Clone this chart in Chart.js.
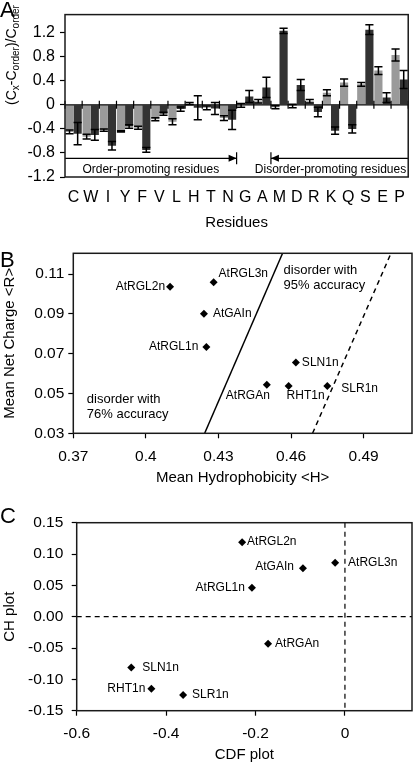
<!DOCTYPE html>
<html>
<head>
<meta charset="utf-8">
<script src="https://cdn.jsdelivr.net/npm/chart.js@4.4.0/dist/chart.umd.min.js"></script>
<style>
  body { margin: 0; background: #fff; width: 416px; height: 765px; position: relative; overflow: hidden; font-family: Arial, "Liberation Sans", sans-serif; }
  .panel { position: absolute; left: 0; }
  .panel canvas { display: block; }
  .tag { position: absolute; left: 0; font-size: 22px; line-height: 1; color: #000; }
</style>
</head>
<body>
<div class="panel" style="top:0"><canvas id="chartA" width="416" height="232"></canvas></div>
<div class="panel" style="top:240px"><canvas id="chartB" width="416" height="250"></canvas></div>
<div class="panel" style="top:505px"><canvas id="chartC" width="416" height="260"></canvas></div>
<div class="tag" style="top:-1px">A</div>
<div class="tag" style="top:249px">B</div>
<div class="tag" style="top:505px">C</div>
<script>
const FONT = 'Arial, "Liberation Sans", sans-serif';
Chart.defaults.font.family = FONT;
Chart.defaults.color = '#000';

// panel A: composition relative to ordered proteins
const residues = ['C', 'W', 'I', 'Y', 'F', 'V', 'L', 'H', 'T', 'N', 'G', 'A', 'M', 'D', 'R', 'K', 'Q', 'S', 'E', 'P'];
const lightVals = [-0.45, -0.53, -0.42, -0.44, -0.38, -0.24, -0.28, 0.02, -0.05, -0.22, -0.01, 0.06, -0.04, -0.02, 0.06, 0.2, 0.37, 0.34, 0.57, 0.83];
const lightErr = [0.03, 0.04, 0.02, 0.01, 0.025, 0.025, 0.05, 0.02, 0.03, 0.04, 0.03, 0.03, 0.025, 0.03, 0.03, 0.05, 0.06, 0.03, 0.065, 0.1];
const darkVals = [-0.48, -0.5, -0.68, -0.36, -0.75, -0.15, -0.07, -0.05, -0.06, -0.25, 0.14, 0.29, 1.23, 0.33, -0.12, -0.43, -0.4, 1.25, 0.12, 0.42];
const darkErr = [0.185, 0.09, 0.07, 0.03, 0.04, 0.025, 0.035, 0.2, 0.1, 0.16, 0.1, 0.17, 0.045, 0.09, 0.08, 0.06, 0.07, 0.08, 0.08, 0.15];
const aTicks = [-1.2, -0.8, -0.4, 0, 0.4, 0.8, 1.2];
const aLabels = ['-1.2', '-0.8', '-0.4', '0', '0.4', '0.8', '1.2'];
const orderGroup = ['C', 'N'];
const disorderGroup = ['M', 'P'];

// panel B: charge-hydropathy
const proteins = ['AtRGL2n', 'AtRGL3n', 'AtGAIn', 'AtRGL1n', 'SLN1n', 'AtRGAn', 'RHT1n', 'SLR1n'];
const meanH = [0.410, 0.428, 0.424, 0.425, 0.462, 0.450, 0.459, 0.475];
const meanR = [0.1036, 0.1059, 0.090, 0.0733, 0.0656, 0.0544, 0.0537, 0.0537];
const boundH = [0.4243, 0.4565];
const boundR = [0.03, 0.1204];
const bound95H = [0.4689, 0.5013];
const bound95R = [0.03, 0.1204];
const bXTicks = [0.37, 0.4, 0.43, 0.46, 0.49];
const bXLabels = ['0.37', '0.4', '0.43', '0.46', '0.49'];
const bYTicks = [0.03, 0.05, 0.07, 0.09, 0.11];
const bYLabels = ['0.03', '0.05', '0.07', '0.09', '0.11'];

// panel C: CH-CDF
const cdfVals = [-0.230, -0.022, -0.094, -0.208, -0.478, -0.172, -0.433, -0.362];
const chVals = [0.119, 0.086, 0.0775, 0.046, -0.081, -0.043, -0.115, -0.125];
const cXTicks = [-0.6, -0.4, -0.2, 0];
const cXLabels = ['-0.6', '-0.4', '-0.2', '0'];
const cYTicks = [-0.15, -0.1, -0.05, 0, 0.05, 0.1, 0.15];
const cYLabels = ['-0.15', '-0.10', '-0.05', '0.00', '0.05', '0.10', '0.15'];

function fixedTicks(values) {
  return scale => { scale.ticks = values.map(v => ({ value: v })); };
}

const framePlugin = {
  id: 'frame',
  afterDraw(chart) {
    const { ctx, chartArea: a } = chart;
    ctx.save();
    ctx.strokeStyle = '#1a1a1a';
    ctx.lineWidth = 1.5;
    ctx.strokeRect(a.left, a.top, a.right - a.left, a.bottom - a.top);
    ctx.restore();
  }
};

const zeroAxis = {
  id: 'zeroAxis',
  afterDatasetsDraw(chart) {
    const { ctx, chartArea: a, scales: { x, y } } = chart;
    const y0 = y.getPixelForValue(0);
    ctx.save();
    ctx.strokeStyle = '#000';
    ctx.lineWidth = 1.2;
    ctx.beginPath();
    ctx.moveTo(a.left, y0);
    ctx.lineTo(a.right, y0);
    for (let i = 0; i <= residues.length; i++) {
      const px = x.getPixelForValue(i - 0.5);
      ctx.moveTo(px, y0 - 4);
      ctx.lineTo(px, y0 + 4);
    }
    ctx.stroke();
    ctx.restore();
  }
};

const errorBars = {
  id: 'errorBars',
  afterDatasetsDraw(chart) {
    const { ctx, scales: { y } } = chart;
    const errs = [lightErr, darkErr];
    ctx.save();
    ctx.strokeStyle = '#000';
    ctx.lineWidth = 1.5;
    chart.data.datasets.forEach((ds, i) => {
      chart.getDatasetMeta(i).data.forEach((bar, j) => {
        const top = y.getPixelForValue(ds.data[j] + errs[i][j]);
        const bot = y.getPixelForValue(ds.data[j] - errs[i][j]);
        const half = bar.width / 2;
        ctx.beginPath();
        ctx.moveTo(bar.x, top); ctx.lineTo(bar.x, bot);
        ctx.moveTo(bar.x - half, top); ctx.lineTo(bar.x + half, top);
        ctx.moveTo(bar.x - half, bot); ctx.lineTo(bar.x + half, bot);
        ctx.stroke();
      });
    });
    ctx.restore();
  }
};

const regionArrows = {
  id: 'regionArrows',
  afterDraw(chart) {
    const { ctx, chartArea: a, scales: { x, y } } = chart;
    const yy = y.getPixelForValue(-0.89);
    const xEnd = x.getPixelForValue(residues.indexOf(orderGroup[1]) + 0.5);
    const xStart = x.getPixelForValue(residues.indexOf(disorderGroup[0]) - 0.5);
    ctx.save();
    ctx.strokeStyle = '#000';
    ctx.fillStyle = '#000';
    ctx.lineWidth = 1.2;
    ctx.beginPath();
    ctx.moveTo(a.left, yy); ctx.lineTo(xEnd, yy);
    ctx.moveTo(xEnd, yy - 6); ctx.lineTo(xEnd, yy + 6);
    ctx.moveTo(xStart, yy); ctx.lineTo(a.right, yy);
    ctx.moveTo(xStart, yy - 6); ctx.lineTo(xStart, yy + 6);
    ctx.stroke();
    ctx.beginPath();
    ctx.moveTo(xEnd, yy); ctx.lineTo(xEnd - 8, yy - 3.5); ctx.lineTo(xEnd - 8, yy + 3.5);
    ctx.closePath();
    ctx.moveTo(xStart, yy); ctx.lineTo(xStart + 8, yy - 3.5); ctx.lineTo(xStart + 8, yy + 3.5);
    ctx.closePath();
    ctx.fill();
    ctx.font = '12px ' + FONT;
    ctx.textBaseline = 'middle';
    ctx.textAlign = 'center';
    ctx.fillText('Order-promoting residues', (a.left + xEnd) / 2, yy + 11);
    ctx.textAlign = 'right';
    ctx.fillText('Disorder-promoting residues', a.right - 2, yy + 11);
    ctx.restore();
  }
};

const ratioTitle = {
  id: 'ratioTitle',
  afterDraw(chart) {
    const { ctx } = chart;
    const parts = [['(C', 0], ['x', 1], ['-C', 0], ['order', 1], [')/C', 0], ['order', 1]];
    const big = '14px ' + FONT;
    const small = '10px ' + FONT;
    ctx.save();
    let total = 0;
    parts.forEach(([t, s]) => { ctx.font = s ? small : big; total += ctx.measureText(t).width; });
    ctx.translate(15.5, 55 + total / 2);
    ctx.rotate(-Math.PI / 2);
    ctx.fillStyle = '#000';
    ctx.textAlign = 'left';
    ctx.textBaseline = 'alphabetic';
    let cx = 0;
    parts.forEach(([t, s]) => {
      ctx.font = s ? small : big;
      ctx.fillText(t, cx, s ? 3 : 0);
      cx += ctx.measureText(t).width;
    });
    ctx.restore();
  }
};

const pointLabels = {
  id: 'pointLabels',
  afterDatasetsDraw(chart, args, opts) {
    const { ctx } = chart;
    const meta = chart.getDatasetMeta(0);
    ctx.save();
    ctx.font = '12px ' + FONT;
    ctx.fillStyle = '#000';
    ctx.textBaseline = 'middle';
    meta.data.forEach((pt, i) => {
      const [dx, dy, align] = opts.place[proteins[i]];
      ctx.textAlign = align;
      ctx.fillText(proteins[i], pt.x + dx, pt.y + dy);
    });
    ctx.restore();
  }
};

const notes = {
  id: 'notes',
  afterDraw(chart, args, opts) {
    const { ctx, scales: { x, y } } = chart;
    ctx.save();
    ctx.font = '13px ' + FONT;
    ctx.fillStyle = '#000';
    ctx.textAlign = 'left';
    ctx.textBaseline = 'middle';
    opts.items.forEach(n => {
      n.lines.forEach((t, k) => ctx.fillText(t, x.getPixelForValue(n.x), y.getPixelForValue(n.y) + k * 15));
    });
    ctx.restore();
  }
};

const originLines = {
  id: 'originLines',
  beforeDatasetsDraw(chart) {
    const { ctx, chartArea: a, scales: { x, y } } = chart;
    const px = x.getPixelForValue(0);
    const py = y.getPixelForValue(0);
    ctx.save();
    ctx.strokeStyle = '#000';
    ctx.lineWidth = 1.2;
    ctx.setLineDash([5, 4]);
    ctx.beginPath();
    ctx.moveTo(a.left, py); ctx.lineTo(a.right, py);
    ctx.moveTo(px, a.top); ctx.lineTo(px, a.bottom);
    ctx.stroke();
    ctx.restore();
  }
};

const noChrome = { legend: { display: false }, tooltip: { enabled: false } };

// ---- A ----
new Chart(document.getElementById('chartA'), {
  type: 'bar',
  data: {
    labels: residues,
    datasets: [
      { data: lightVals, backgroundColor: '#9a9a9a' },
      { data: darkVals, backgroundColor: '#333333' }
    ]
  },
  options: {
    responsive: false,
    animation: false,
    layout: { padding: { top: 1.5, right: 1, left: 0, bottom: 0 } },
    datasets: { bar: { categoryPercentage: 0.95, barPercentage: 1 } },
    plugins: noChrome,
    scales: {
      x: {
        grid: { display: false, drawTicks: false },
        border: { display: false },
        ticks: { font: { size: 16 }, padding: 11, maxRotation: 0, autoSkip: false },
        title: { display: true, text: 'Residues', font: { size: 15 }, padding: { top: 0, bottom: 0 } },
        afterFit: s => { s.height = 55; }
      },
      y: {
        min: -1.2,
        max: 1.5,
        afterBuildTicks: fixedTicks(aTicks),
        grid: { drawOnChartArea: false, tickLength: 5, tickColor: '#000', tickWidth: 1.2 },
        border: { display: false },
        ticks: { font: { size: 16 }, padding: 5, callback: (v, i) => aLabels[i] },
        afterFit: s => { s.width = 65; }
      }
    }
  },
  plugins: [zeroAxis, errorBars, regionArrows, ratioTitle, framePlugin]
});

// ---- B ----
new Chart(document.getElementById('chartB'), {
  type: 'scatter',
  data: {
    datasets: [
      { data: proteins.map((p, i) => ({ x: meanH[i], y: meanR[i] })), pointStyle: 'rectRot', pointRadius: 4, pointBackgroundColor: '#000', pointBorderWidth: 0 },
      { data: boundH.map((h, i) => ({ x: h, y: boundR[i] })), showLine: true, pointRadius: 0, borderColor: '#000', borderWidth: 1.5 },
      { data: bound95H.map((h, i) => ({ x: h, y: bound95R[i] })), showLine: true, pointRadius: 0, borderColor: '#000', borderWidth: 1.5, borderDash: [5, 4] }
    ]
  },
  options: {
    responsive: false,
    animation: false,
    layout: { padding: { top: 5, right: 2, left: 0, bottom: 0 } },
    plugins: {
      ...noChrome,
      pointLabels: {
        place: {
          AtRGL2n: [-5, 0, 'right'], AtRGL3n: [5, -8, 'left'], AtGAIn: [9, 0, 'left'], AtRGL1n: [-8, 0, 'right'],
          SLN1n: [6, 0, 'left'], AtRGAn: [-41, 11, 'left'], RHT1n: [-2, 10, 'left'], SLR1n: [14, 3, 'left']
        }
      },
      notes: {
        items: [
          { lines: ['disorder with', '95% accuracy'], x: 0.4569, y: 0.1116 },
          { lines: ['disorder with', '76% accuracy'], x: 0.3756, y: 0.0469 }
        ]
      }
    },
    scales: {
      x: {
        min: 0.37,
        max: 0.51,
        afterBuildTicks: fixedTicks(bXTicks),
        grid: { drawOnChartArea: false, tickLength: 5, tickColor: '#000', tickWidth: 1.2 },
        border: { display: false },
        ticks: { font: { size: 15.5 }, padding: 9, autoSkip: false, maxRotation: 0, callback: (v, i) => bXLabels[i] },
        title: { display: true, text: 'Mean Hydrophobicity <H>', font: { size: 15 }, padding: { top: 0, bottom: 3 } },
        afterFit: s => { s.height = 56.7; }
      },
      y: {
        min: 0.03,
        max: 0.1204,
        afterBuildTicks: fixedTicks(bYTicks),
        grid: { drawOnChartArea: false, tickLength: 5, tickColor: '#000', tickWidth: 1.2 },
        border: { display: false },
        ticks: { font: { size: 15.5 }, padding: 4, callback: (v, i) => bYLabels[i] },
        title: { display: true, text: 'Mean Net Charge <R>', font: { size: 15 }, lineHeight: 1.2, padding: { top: 0.5, bottom: 0 } },
        afterFit: s => { s.width = 73.3; }
      }
    }
  },
  plugins: [pointLabels, notes, framePlugin]
});

// ---- C ----
new Chart(document.getElementById('chartC'), {
  type: 'scatter',
  data: {
    datasets: [
      { data: proteins.map((p, i) => ({ x: cdfVals[i], y: chVals[i] })), pointStyle: 'rectRot', pointRadius: 4, pointBackgroundColor: '#000', pointBorderWidth: 0 }
    ]
  },
  options: {
    responsive: false,
    animation: false,
    layout: { padding: { top: 10, right: 2, left: 0, bottom: 0 } },
    plugins: {
      ...noChrome,
      pointLabels: {
        place: {
          AtRGL2n: [5, 0, 'left'], AtRGL3n: [13, 0, 'left'], AtGAIn: [-9, -1, 'right'], AtRGL1n: [-7, 0, 'right'],
          SLN1n: [11, 0, 'left'], AtRGAn: [7, 0, 'left'], RHT1n: [-6, 0, 'right'], SLR1n: [9, 0, 'left']
        }
      }
    },
    scales: {
      x: {
        min: -0.6,
        max: 0.15,
        afterBuildTicks: fixedTicks(cXTicks),
        grid: { drawOnChartArea: false, tickLength: 5, tickColor: '#000', tickWidth: 1.2 },
        border: { display: false },
        ticks: { font: { size: 15.5 }, padding: 8.3, autoSkip: false, maxRotation: 0, callback: (v, i) => cXLabels[i] },
        title: { display: true, text: 'CDF plot', font: { size: 15 }, lineHeight: 1, padding: { top: 0, bottom: 0.8 } },
        afterFit: s => { s.height = 54.3; }
      },
      y: {
        min: -0.15,
        max: 0.15,
        afterBuildTicks: fixedTicks(cYTicks),
        grid: { drawOnChartArea: false, tickLength: 5, tickColor: '#000', tickWidth: 1.2 },
        border: { display: false },
        ticks: { font: { size: 15.5 }, padding: 8.4, callback: (v, i) => cYLabels[i] },
        title: { display: true, text: 'CH plot', font: { size: 15 }, lineHeight: 1.2, padding: { top: 1, bottom: 0 } },
        afterFit: s => { s.width = 76.7; }
      }
    }
  },
  plugins: [originLines, pointLabels, framePlugin]
});
</script>
</body>
</html>
